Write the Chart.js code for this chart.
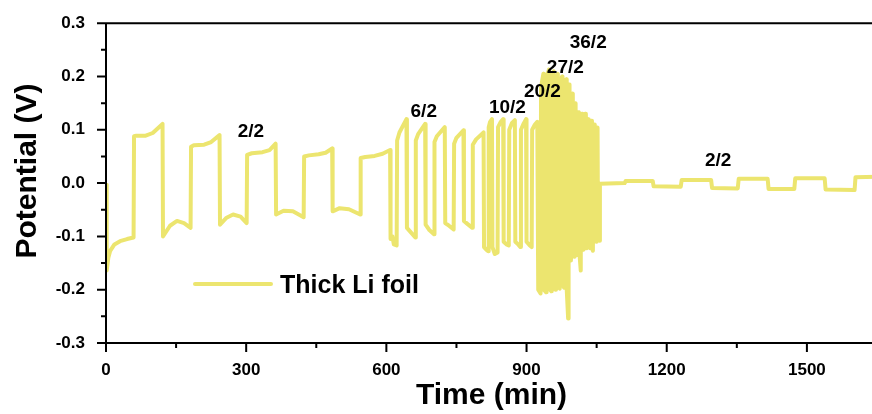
<!DOCTYPE html>
<html>
<head>
<meta charset="utf-8">
<script src="https://cdn.jsdelivr.net/npm/chart.js@4.4.0/dist/chart.umd.min.js"></script>
<style>
	html, body { margin: 0; padding: 0; background: #fff; overflow: hidden; }
	#wrap { width: 877px; height: 414px; }
</style>
</head>
<body>
<div id="wrap"><canvas id="myChart" width="877" height="414"></canvas></div>
<script>
// 2/2 at the start (one line per half cycle)
var time22a = [
	0, 1, 2, 5, 9, 18, 30, 45, 59,
	60, 65, 85, 100, 121,
	122, 137, 152, 167, 181,
	182, 188, 210, 225, 243,
	244, 258, 272, 288, 301,
	302, 312, 335, 350, 363,
	364, 380, 400, 423,
	424, 434, 455, 470, 484,
	485, 500, 520, 544,
	545, 555, 575, 592, 608
];
var potential22a = [
	-0.003, -0.12, -0.164, -0.14, -0.127, -0.115, -0.109, -0.105, -0.102,
	0.088, 0.089, 0.089, 0.094, 0.111,
	-0.1, -0.08, -0.071, -0.075, -0.084,
	0.068, 0.071, 0.072, 0.077, 0.09,
	-0.078, -0.065, -0.059, -0.063, -0.075,
	0.053, 0.056, 0.058, 0.062, 0.074,
	-0.059, -0.052, -0.053, -0.064,
	0.05, 0.052, 0.054, 0.057, 0.065,
	-0.053, -0.047, -0.049, -0.059,
	0.047, 0.049, 0.051, 0.055, 0.062
];

// 6/2
var time62 = [
	609, 613, 616, 622,
	623, 628, 643,
	644, 652, 662,
	663, 668, 683,
	684, 692, 702,
	703, 708, 725,
	726, 734, 744,
	745, 750, 765,
	766, 774, 784,
	785, 792, 808
];
var potential62 = [
	-0.105, -0.1, -0.115, -0.117,
	0.08, 0.095, 0.12,
	-0.084, -0.092, -0.102,
	0.08, 0.092, 0.111,
	-0.078, -0.088, -0.096,
	0.077, 0.088, 0.105,
	-0.075, -0.08, -0.087,
	0.074, 0.085, 0.099,
	-0.071, -0.077, -0.084,
	0.072, 0.082, 0.095
];

// 10/2
var time102 = [
	809, 814, 818,
	819, 822, 826,
	827, 832, 838,
	839, 845, 850,
	851, 857, 862,
	863, 869, 875,
	876, 882, 887,
	888, 894, 899,
	900, 906, 911,
	912, 918, 923
];
var potential102 = [
	-0.12, -0.125, -0.128,
	0.105, 0.115, 0.12,
	-0.12, -0.133, -0.13,
	0.105, 0.115, 0.12,
	-0.11, -0.115, -0.117,
	0.1, 0.113, 0.118,
	-0.11, -0.115, -0.12,
	0.1, 0.112, 0.12,
	-0.11, -0.116, -0.12,
	0.1, 0.11, 0.115
];

// 20/2, 27/2 and 36/2 (dense part)
var timeHigh = [
	925, 930, 931, 936, 937, 942, 943, 948,
	949, 953, 954, 958, 959, 962, 963, 967,
	968, 971, 972, 976, 977, 980, 981, 985,
	986, 989, 990, 992, 993, 995, 996, 999,
	1000, 1002, 1003, 1005, 1006, 1009, 1010, 1012,
	1013, 1016, 1017, 1019, 1020, 1022, 1023, 1026,
	1027, 1029, 1030, 1032, 1033, 1036, 1037, 1039,
	1040, 1042, 1043, 1046, 1047, 1049, 1050, 1052,
	1053, 1056
];
var potentialHigh = [
	-0.2, -0.207, 0.18, 0.205, -0.2, -0.205, 0.2, 0.213,
	-0.198, -0.203, 0.195, 0.21, -0.195, -0.2, 0.19, 0.205,
	-0.193, -0.198, 0.185, 0.2, -0.19, -0.196, 0.18, 0.195,
	-0.2, -0.254, 0.17, 0.185, -0.14, -0.145, 0.16, 0.168,
	-0.13, -0.138, 0.14, 0.15, -0.128, -0.135, 0.128, 0.133,
	-0.13, -0.164, 0.125, 0.13, -0.12, -0.125, 0.122, 0.13,
	-0.118, -0.122, 0.115, 0.12, -0.118, -0.122, 0.112, 0.117,
	-0.12, -0.127, 0.105, 0.11, -0.108, -0.11, 0.1, 0.104,
	-0.105, -0.108
];

// back to 2/2
var time22b = [1057, 1110, 1112, 1170, 1172, 1230, 1232, 1295, 1297, 1352, 1354, 1416, 1418, 1473, 1475, 1538, 1540, 1602, 1604, 1650];
var potential22b = [-0.001, 0, 0.004, 0.004, -0.006, -0.007, 0.006, 0.006, -0.009, -0.01, 0.008, 0.008, -0.011, -0.011, 0.009, 0.009, -0.012, -0.013, 0.011, 0.012];

// current density labels
var labelText = ['2/2', '6/2', '10/2', '20/2', '27/2', '36/2', '2/2'];
var labelTime = [310, 680, 859, 934, 983, 1032, 1310];
var labelPotential = [0.0955, 0.134, 0.141, 0.171, 0.216, 0.263, 0.042];

var xTicks = [0, 300, 600, 900, 1200, 1500];
var xMinorTicks = [150, 450, 750, 1050, 1350, 1650];
var yTicks = [-0.3, -0.2, -0.1, 0, 0.1, 0.2, 0.3];
var yMinorTicks = [-0.25, -0.15, -0.05, 0.05, 0.15, 0.25];

var corLinha = 'rgb(236,229,111)';
var fonte = '"Liberation Sans", Arial, sans-serif';

function juntarPontos(){
	var pontos = [];
	var secoes = [
		[time22a, potential22a],
		[time62, potential62],
		[time102, potential102],
		[timeHigh, potentialHigh],
		[time22b, potential22b]
	];
	secoes.forEach(function(s){
		for (var i = 0; i < s[0].length; i++) {
			pontos.push({x: s[0][i], y: s[1][i]});
		}
	});
	return pontos;
}

var eixosPlugin = {
	id: 'eixos',
	afterDraw: function(chart){
		var ctx = chart.ctx;
		var a = chart.chartArea;
		var sx = chart.scales.x;
		var sy = chart.scales.y;
		ctx.save();
		ctx.strokeStyle = '#000';
		ctx.lineWidth = 2;
		ctx.beginPath();
		ctx.moveTo(a.left, a.top);
		ctx.lineTo(a.right + 2, a.top);
		ctx.moveTo(a.left, a.top - 1);
		ctx.lineTo(a.left, a.bottom + 1);
		ctx.moveTo(a.left - 1, a.bottom);
		ctx.lineTo(a.right + 2, a.bottom);
		xTicks.forEach(function(v){
			var p = sx.getPixelForValue(v);
			ctx.moveTo(p, a.bottom); ctx.lineTo(p, a.bottom + 9);
		});
		xMinorTicks.forEach(function(v){
			var p = sx.getPixelForValue(v);
			ctx.moveTo(p, a.bottom); ctx.lineTo(p, a.bottom + 5);
		});
		yTicks.forEach(function(v){
			var p = sy.getPixelForValue(v);
			ctx.moveTo(a.left, p); ctx.lineTo(a.left - 9, p);
		});
		yMinorTicks.forEach(function(v){
			var p = sy.getPixelForValue(v);
			ctx.moveTo(a.left, p); ctx.lineTo(a.left - 5, p);
		});
		ctx.stroke();

		// y title
		ctx.fillStyle = '#000';
		ctx.font = 'bold 30px ' + fonte;
		ctx.textAlign = 'center';
		ctx.textBaseline = 'middle';
		ctx.translate(28, 171);
		ctx.rotate(-Math.PI / 2);
		ctx.fillText('Potential (V)', 0, 0);
		ctx.restore();

		// labels over the curve
		ctx.save();
		ctx.fillStyle = '#000';
		ctx.font = 'bold 19px ' + fonte;
		ctx.textAlign = 'center';
		ctx.textBaseline = 'middle';
		for (var i = 0; i < labelText.length; i++) {
			ctx.fillText(labelText[i], sx.getPixelForValue(labelTime[i]), sy.getPixelForValue(labelPotential[i]));
		}

		// legend
		var ds = chart.data.datasets[0];
		ctx.strokeStyle = ds.borderColor;
		ctx.lineWidth = 4;
		ctx.lineCap = 'round';
		ctx.beginPath();
		ctx.moveTo(a.left + 89, 284);
		ctx.lineTo(a.left + 165, 284);
		ctx.stroke();
		ctx.font = 'bold 25px ' + fonte;
		ctx.textAlign = 'left';
		ctx.fillText(ds.label, a.left + 174, 286);
		ctx.restore();
	}
};

Chart.defaults.font.family = fonte;

var ctx = document.getElementById('myChart').getContext('2d');
var myChart = new Chart(ctx, {
	type: 'line',
	data: {
		datasets: [{
			label: 'Thick Li foil',
			data: juntarPontos(),
			borderColor: corLinha,
			backgroundColor: corLinha,
			borderWidth: 4,
			pointRadius: 0,
			fill: false,
			tension: 0,
			borderJoinStyle: 'round',
			borderCapStyle: 'round'
		}]
	},
	options: {
		responsive: false,
		animation: false,
		devicePixelRatio: 1,
		layout: { padding: { top: 10, right: 0, bottom: 0, left: 0 } },
		plugins: {
			legend: { display: false },
			tooltip: { enabled: false }
		},
		scales: {
			x: {
				type: 'linear',
				min: 0,
				max: 1650,
				grid: { display: false },
				border: { display: false },
				afterBuildTicks: function(s){ s.ticks = xTicks.map(function(v){ return {value: v}; }); },
				afterFit: function(s){ s.height = 71; },
				ticks: {
					color: '#000',
					font: { size: 17, weight: 'bold' },
					padding: 9,
					maxRotation: 0,
					autoSkip: false,
					callback: function(v){ return String(v); }
				},
				title: {
					display: true,
					text: 'Time (min)',
					color: '#000',
					font: { size: 30, weight: 'bold' },
					padding: { top: 0, bottom: 0 }
				}
			},
			y: {
				type: 'linear',
				min: -0.3,
				max: 0.3,
				grid: { display: false },
				border: { display: false },
				afterBuildTicks: function(s){ s.ticks = yTicks.map(function(v){ return {value: v}; }); },
				afterFit: function(s){ s.width = 106; },
				ticks: {
					color: '#000',
					font: { size: 17, weight: 'bold' },
					padding: 13,
					callback: function(v){ return v.toFixed(1); }
				}
			}
		}
	},
	plugins: [eixosPlugin]
});
</script>
</body>
</html>
